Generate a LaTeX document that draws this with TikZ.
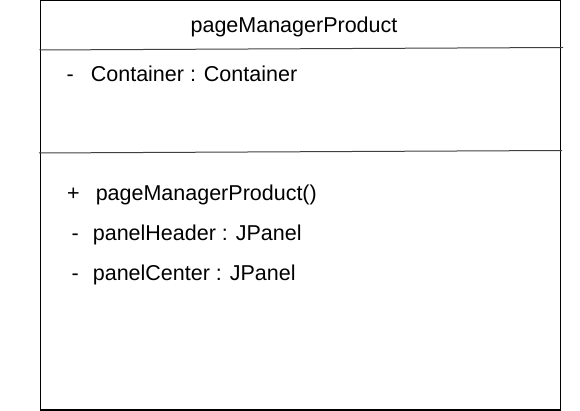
\documentclass[tikz,border=0pt]{standalone}
\usepackage{fontspec}
\setmainfont{Liberation Sans}
\usepackage{tikz}

\begin{document}
\begin{tikzpicture}[x=1pt,y=-1pt,
	member/.style={anchor=base west,inner sep=0pt,font=\fontsize{21.5}{24}\selectfont},
	title/.style={anchor=base,inner sep=0pt,font=\fontsize{21.5}{24}\selectfont}]
	\def\l{40.5}	%left edge of class box
	\def\r{560.5}	%right edge of class box
	\def\b{410}	%bottom edge of class box
	\useasboundingbox (0,0) rectangle (580,411);
	
	%CLASS BOX
	\draw[line width=1.2pt] (\l,0.8) rectangle (\r,\b);
	\draw[line width=1pt,black!75] (39.5,50)--(563,47.5);	%name / fields
	\draw[line width=1pt,black!75] (39,153)--(562,150.5);	%fields / methods
	
	%NAME
	\node[title] (name) at (294,32.5) {pageManagerProduct};
	
	%FIELDS
	\node[member] (container) at (66.5,82) {-\hspace{17pt}Container : Container};
	
	%METHODS
	\node[member] (ctor)   at (67,201)   {+\hspace{16pt}pageManagerProduct()};
	\node[member] (header) at (71.5,241) {-\hspace{14pt}panelHeader : JPanel};
	\node[member] (center) at (71.5,280) {-\hspace{14pt}panelCenter : JPanel};
\end{tikzpicture}
\end{document}
